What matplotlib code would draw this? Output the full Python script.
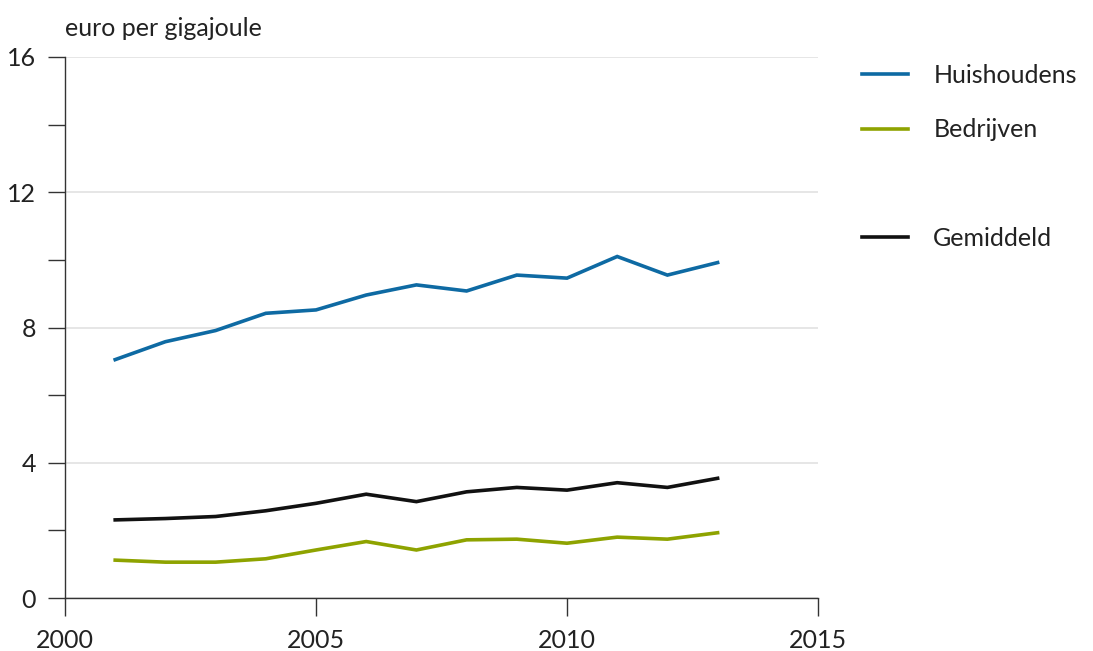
import matplotlib
matplotlib.use("Agg")
import matplotlib.pyplot as plt
from matplotlib.lines import Line2D

years = [2001, 2002, 2003, 2004, 2005, 2006, 2007, 2008, 2009, 2010, 2011, 2012, 2013]
huishoudens = [7.05, 7.58, 7.91, 8.42, 8.52, 8.96, 9.26, 9.08, 9.55, 9.46, 10.1, 9.55, 9.92]
bedrijven = [1.12, 1.06, 1.06, 1.16, 1.42, 1.67, 1.42, 1.72, 1.74, 1.62, 1.80, 1.74, 1.93]
gemiddeld = [2.31, 2.35, 2.41, 2.58, 2.80, 3.07, 2.85, 3.14, 3.27, 3.19, 3.41, 3.27, 3.54]

series_labels = ["Huishoudens", "Bedrijven", "Gemiddeld"]
colors = ["#0e6aa3", "#8ea300", "#111111"]

plt.rcParams['font.family'] = ['Lato', 'DejaVu Sans']
fs = 18

fig = plt.figure(figsize=(10.93, 6.51), dpi=100)
ax = fig.add_axes([65 / 1093, 1 - 598 / 651, (818 - 65) / 1093, (598 - 57) / 651])

for vals, c in zip([huishoudens, bedrijven, gemiddeld], colors):
    ax.plot(years, vals, color=c, lw=2.6, solid_joinstyle='miter')

ax.set_xlim(2000, 2015)
ax.set_ylim(0, 16)
ax.set_xticks([2000, 2005, 2010, 2015])
ax.set_yticks([0, 4, 8, 12, 16])
ax.set_yticks([2, 6, 10, 14], minor=True)
ax.grid(axis='y', color='#e2e2e2', lw=1.2)
ax.set_axisbelow(True)

for s in ['top', 'right']:
    ax.spines[s].set_visible(False)
for s in ['left', 'bottom']:
    ax.spines[s].set_color('#333333')
    ax.spines[s].set_linewidth(1.0)

ax.tick_params(axis='y', which='both', length=12, width=1, color='#333333',
               labelsize=fs, pad=9, labelcolor='#222222')
ax.tick_params(axis='x', length=13, width=1, color='#333333',
               labelsize=fs, pad=9, labelcolor='#222222')

fig.text(65 / 1093, 1 - 28 / 651, "euro per gigajoule", fontsize=fs,
         color='#222222', va='center', ha='left')

handles = [Line2D([], [], color=colors[0], lw=2.6),
           Line2D([], [], color=colors[1], lw=2.6),
           Line2D([], [], color='none'),
           Line2D([], [], color=colors[2], lw=2.6)]
labels = [series_labels[0], series_labels[1], " ", series_labels[2]]
fig.legend(handles, labels, loc='upper left', bbox_to_anchor=(862 / 1093, 1 - 64 / 651),
           frameon=False, fontsize=fs, handlelength=1.85, handletextpad=1.0,
           labelspacing=1.25, borderpad=0, borderaxespad=0, labelcolor='#222222')

fig.savefig("out.png", dpi=100)
